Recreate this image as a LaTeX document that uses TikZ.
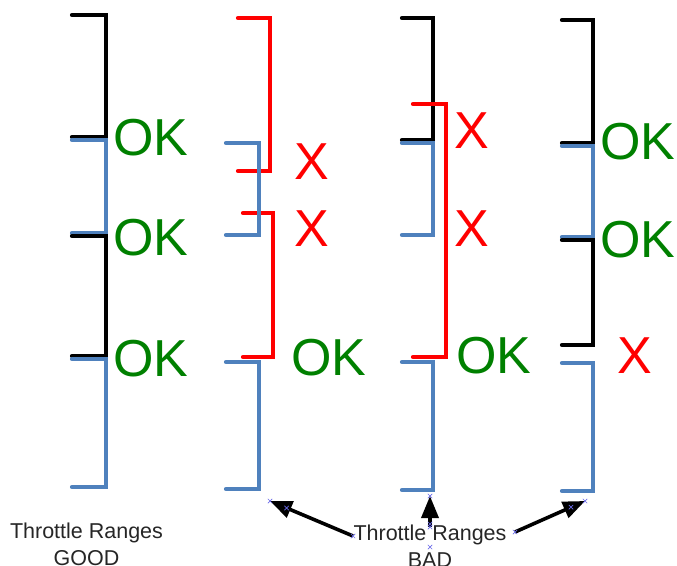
\documentclass[tikz,border=0pt]{standalone}
\usepackage{fontspec}
\setmainfont{Liberation Sans}
\usetikzlibrary{arrows.meta,calc}
\definecolor{rangeblue}{HTML}{4F81BD}
\definecolor{badred}{HTML}{FF0000}
\definecolor{okgreen}{HTML}{008000}
\definecolor{handleblue}{HTML}{6A6AE8}

% one throttle range: colour, left x, right x, top y, bottom y
\newcommand\rangebracket[5]{\draw[rangeline,#1] (#2,#4) -- (#3,#4) -- (#3,#5) -- (#2,#5);}
% small selection-handle cross
\newcommand\handlemark[1]{\draw[handlecross] ($(#1)+(-2.2,-2.2)$) -- ($(#1)+(2.2,2.2)$) ($(#1)+(-2.2,2.2)$) -- ($(#1)+(2.2,-2.2)$);}

\begin{document}
\begin{tikzpicture}[x=1pt,y=-1pt,
  rangeline/.style={line width=4.2pt, line cap=round, line join=miter},
  verdict/.style={inner sep=0pt, font=\fontsize{52}{52}\selectfont},
  okmark/.style={verdict, text=okgreen},
  badmark/.style={verdict, text=badred},
  captiontext/.style={inner sep=0pt, anchor=base, text=black!85, font=\fontsize{21.5}{26}\selectfont},
  pointer/.style={line width=3.6pt, -{Triangle[length=22pt,width=17pt]}},
  handlecross/.style={handleblue, line width=0.7pt}]

\useasboundingbox (0,0) rectangle (677,565);

% column 1: ranges that meet cleanly
\rangebracket{black}{72}{106}{15}{137}
\rangebracket{rangeblue}{72}{106}{140}{233}
\rangebracket{black}{72}{106}{236}{356}
\rangebracket{rangeblue}{72}{106}{359}{487}

% column 2: overlapping red ranges
\rangebracket{badred}{238}{270}{18}{171}
\rangebracket{badred}{243}{273}{213}{357}
\rangebracket{rangeblue}{226}{259}{143}{235}
\rangebracket{rangeblue}{226}{259}{362}{489}

% column 3: one red range spanning two others
\rangebracket{black}{402}{433}{18}{140}
\rangebracket{badred}{413}{446}{104}{357}
\rangebracket{rangeblue}{402}{433}{143}{235}
\rangebracket{rangeblue}{402}{433}{362}{490}

% column 4: a gap between ranges
\rangebracket{black}{562}{593}{20}{143}
\rangebracket{rangeblue}{562}{593}{146}{237}
\rangebracket{black}{562}{593}{240}{345}
\rangebracket{rangeblue}{562}{593}{363}{491}

% verdicts
\node[okmark] (okA1) at (151,138) {OK};
\node[okmark] (okA2) at (151,238) {OK};
\node[okmark] (okA3) at (151,359) {OK};

\node[badmark] (xB1) at (312,162) {X};
\node[badmark] (xB2) at (312,229) {X};
\node[okmark]  (okB3) at (329,358) {OK};

\node[badmark] (xC1) at (472,131) {X};
\node[badmark] (xC2) at (472,229) {X};
\node[okmark]  (okC3) at (494,356) {OK};

\node[okmark]  (okD1) at (638,142) {OK};
\node[okmark]  (okD2) at (638,240) {OK};
\node[badmark] (xD3) at (635,356) {X};

% captions
\node[captiontext] (good1) at (86.5,538) {Throttle Ranges};
\node[captiontext] (good2) at (86.5,565.5) {GOOD};
\node[captiontext] (bad1) at (430,540) {Throttle Ranges};
\node[captiontext] (bad2) at (430,567) {BAD};

% pointers from the BAD caption to the faulty columns
\coordinate (fromL) at (353,536);
\coordinate (fromM) at (430,527);
\coordinate (fromR) at (515,532);
\coordinate (tipL) at (270,501);
\coordinate (tipM) at (430,496);
\coordinate (tipR) at (585,501);
\draw[pointer] (fromL) -- (tipL);
\draw[pointer] (fromM) -- (tipM);
\draw[pointer] (fromR) -- (tipR);

% selection handles
\handlemark{tipL}
\handlemark{$(tipL)!0.2!(fromL)$}
\handlemark{fromL}
\handlemark{tipM}
\handlemark{fromM}
\handlemark{$(fromM)+(0,-3)$}
\handlemark{$(bad1.base)+(0,7)$}
\handlemark{fromR}
\handlemark{$(tipR)!0.2!(fromR)$}
\handlemark{tipR}
\end{tikzpicture}
\end{document}
